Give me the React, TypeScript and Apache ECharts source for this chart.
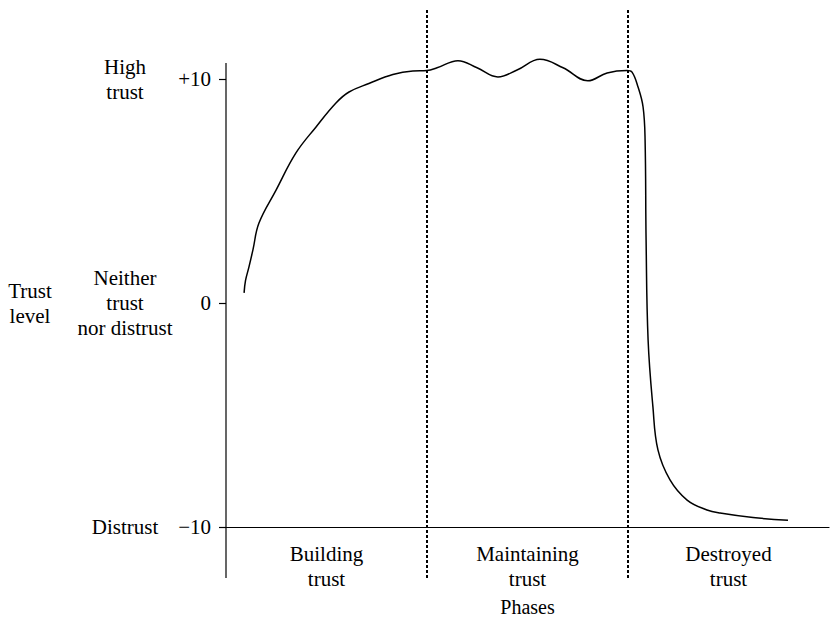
import React, { useEffect, useRef } from "react";
import * as echarts from "echarts";

const FONT = "Liberation Serif";

// Phase categories (x positions are centres of each phase)
const phaseNames = ["Building\ntrust", "Maintaining\ntrust", "Destroyed\ntrust"];
const phaseCentres = [0.5, 1.5, 2.5];
const phaseBounds = [1, 2];

// Y tick values & labels
const trustTicks = [-10, 0, 10];
const trustTickLabels = ["\u221210", "0", "+10"];
const trustDescriptors = ["Distrust", "Neither\ntrust\nnor distrust", "High\ntrust"];

// Curve: [phase position, trust level]
const buildingX = [0.09, 0.097, 0.114, 0.134, 0.164, 0.249, 0.348, 0.448, 0.547, 0.612, 0.711, 0.83, 0.93, 1.0];
const buildingY = [0.45, 1.0, 1.6, 2.37, 3.57, 5.04, 6.7, 7.86, 8.93, 9.42, 9.8, 10.2, 10.36, 10.38];
const maintainX = [1.05, 1.154, 1.249, 1.353, 1.448, 1.562, 1.677, 1.8, 1.896, 1.995];
const maintainY = [10.5, 10.82, 10.5, 10.09, 10.4, 10.88, 10.5, 9.92, 10.27, 10.38];
const destroyX = [2.02, 2.05, 2.075, 2.085, 2.09, 2.1, 2.124, 2.149, 2.209, 2.294, 2.393, 2.458, 2.622, 2.796];
const destroyY = [10.31, 9.64, 8.75, 7.28, 2.81, -1.65, -4.64, -6.56, -7.9, -8.8, -9.24, -9.38, -9.58, -9.7];

const axisBottom = -12.28;
const axisTop = 10.71;
const dashTop = 13.17;

export default function App() {
  const ref = useRef<HTMLDivElement>(null);
  useEffect(() => {
    if (!ref.current) return;
    const chart = echarts.init(ref.current, null, { renderer: "svg" });
    const curve: number[][] = [];
    [
      [buildingX, buildingY],
      [maintainX, maintainY],
      [destroyX, destroyY],
    ].forEach(([xs, ys]) => xs.forEach((x, i) => curve.push([x, ys[i]])));

    const textStyle = { fontFamily: FONT, fontSize: 21, color: "#000", lineHeight: 25 };
    const baseY = {
      type: "value" as const,
      position: "left" as const,
      offset: 0,
      min: -10,
      max: 10,
      interval: 10,
      splitLine: { show: false },
      axisLine: { show: false },
    };

    const lineSeries = (data: number[][], dashed: boolean, width: number) => ({
      type: "line",
      data,
      clip: false,
      symbol: "none",
      silent: true,
      lineStyle: { color: "#000", width, type: dashed ? [3, 2] : "solid" },
      z: 3,
    });

    chart.setOption({
      animation: false,
      backgroundColor: "#fff",
      textStyle: { fontFamily: FONT },
      grid: { left: 226, right: 1, top: 79, bottom: 93, containLabel: false, outerBoundsMode: "none" },
      xAxis: {
        type: "value",
        min: 0,
        max: 3,
        interval: 0.5,
        splitLine: { show: false },
        axisLine: { show: true, onZero: false, lineStyle: { color: "#000", width: 1.2 } },
        axisTick: { show: false },
        axisLabel: {
          ...textStyle,
          margin: 14,
          formatter: (v: number) => {
            const i = phaseCentres.findIndex((c) => Math.abs(c - v) < 1e-6);
            return i >= 0 ? phaseNames[i] : "";
          },
        },
        name: "Phases",
        nameLocation: "middle",
        nameGap: 69,
        nameTextStyle: { fontFamily: FONT, fontSize: 20, color: "#000", lineHeight: 22 },
      },
      yAxis: [
        {
          ...baseY,
          axisTick: { show: true, length: 7, lineStyle: { color: "#000", width: 1.2 } },
          axisLabel: {
            ...textStyle,
            margin: 15,
            formatter: (v: number) => {
              const i = trustTicks.indexOf(v);
              return i >= 0 ? trustTickLabels[i] : "";
            },
          },
        },
        {
          ...baseY,
          axisTick: { show: false },
          axisLabel: {
            ...textStyle,
            margin: 101,
            align: "center",
            formatter: (v: number) => {
              const i = trustTicks.indexOf(v);
              return i >= 0 ? trustDescriptors[i] : "";
            },
          },
        },
        {
          ...baseY,
          axisTick: { show: false },
          axisLabel: {
            ...textStyle,
            margin: 196,
            align: "center",
            formatter: (v: number) => (v === 0 ? "Trust\nlevel" : ""),
          },
        },
      ],
      series: [
        lineSeries([[0, axisBottom], [0, axisTop]], false, 1.2),
        ...phaseBounds.map((b) => lineSeries([[b, axisBottom], [b, dashTop]], true, 2)),
        { ...lineSeries(curve, false, 1.5), smooth: 0.4 },
      ],
    });
    return () => chart.dispose();
  }, []);
  return (
    <div
      ref={ref}
      style={{ position: "fixed", left: 0, top: 0, width: 830, height: 620, background: "#fff" }}
    />
  );
}
